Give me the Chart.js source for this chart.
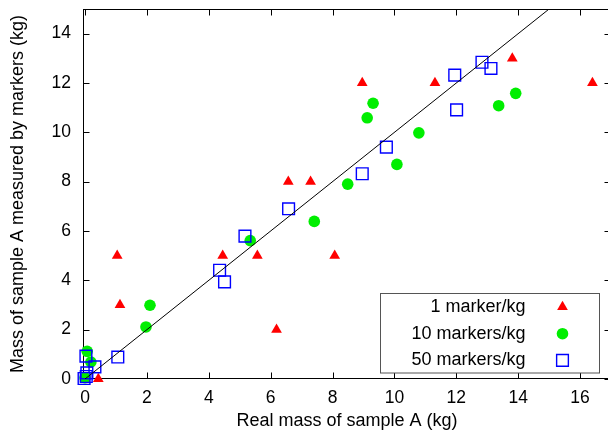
<!DOCTYPE html>
<html lang="en">
<head>
<meta charset="UTF-8">
<title>Mass of sample A</title>
<script src="https://cdn.jsdelivr.net/npm/chart.js"></script>
<style>
  html, body { margin: 0; padding: 0; background: #fff; overflow: hidden; }
  /* plot frame runs a few px past the right edge of the window */
  #wrap { width: 611px; height: 441px; }
</style>
</head>
<body>
<div id="wrap"><canvas id="massChart"></canvas></div>
<script>
// measured mass vs real mass, one series per marker density
const oneX = [0.43, 1.04, 1.13, 4.45, 5.57, 6.19, 6.57, 7.29, 8.07, 8.96, 11.31, 13.81, 16.4, 0.0];
const oneY = [0, 5, 3, 5, 5, 2, 8, 8, 5, 12, 12, 13, 12, 0];

const tenX = [0.0, 0.07, 0.19, 1.97, 2.1, 5.34, 7.41, 8.49, 9.12, 9.31, 10.08, 10.79, 13.37, 13.92];
const tenY = [0.05, 1.12, 0.69, 2.11, 2.99, 5.61, 6.39, 7.9, 10.59, 11.18, 8.7, 9.98, 11.08, 11.58];

const fiftyX = [-0.03, 0.04, 0.06, 0.03, 0.32, 1.06, 4.35, 4.51, 5.17, 6.58, 8.96, 9.74, 11.95, 12.01, 12.83, 13.12];
const fiftyY = [0.02, 0.1, 0.25, 0.93, 0.49, 0.89, 4.41, 3.94, 5.79, 6.9, 8.32, 9.4, 12.32, 10.91, 12.84, 12.59];

// reference line y = x
const refX = [0, 16];
const refY = [0, 16];

const xTicks = [0, 2, 4, 6, 8, 10, 12, 14, 16];
const yTicks = [0, 2, 4, 6, 8, 10, 12, 14];

const FONT = "'Liberation Sans', Arial, Helvetica, sans-serif";

function pts(xs, ys) {
  return xs.map((x, i) => ({x: x, y: ys[i]}));
}

// box, inward ticks on all four sides (gnuplot style)
const frame = {
  id: 'frame',
  beforeDatasetsDraw(chart) {
    const {ctx, chartArea: a, scales: {x, y}} = chart;
    const L = Math.round(a.left) + 0.5, R = Math.round(a.right) - 0.5;
    const T = Math.round(a.top) + 0.5, B = Math.round(a.bottom) - 0.5;
    ctx.save();
    ctx.strokeStyle = '#000';
    ctx.lineWidth = 1;
    ctx.strokeRect(L, T, R - L, B - T);
    ctx.beginPath();
    x.ticks.forEach(t => {
      const px = Math.round(x.getPixelForValue(t.value)) + 0.5;
      ctx.moveTo(px, B); ctx.lineTo(px, B - 6);
      ctx.moveTo(px, T); ctx.lineTo(px, T + 6);
    });
    y.ticks.forEach(t => {
      const py = Math.round(y.getPixelForValue(t.value)) + 0.5;
      ctx.moveTo(L, py); ctx.lineTo(L + 6, py);
      ctx.moveTo(R, py); ctx.lineTo(R - 6, py);
    });
    ctx.stroke();
    ctx.restore();
  }
};

// key box in the lower right: label right-aligned, sample marker after it
const keyBox = {
  id: 'keyBox',
  afterDraw(chart) {
    const {ctx, chartArea: a} = chart;
    const sets = chart.data.datasets.filter(d => d.type !== 'line');
    const left = a.right - 230.5, right = a.right - 11.5;
    const top = a.bottom - 85.5, bottom = a.bottom - 6;
    ctx.save();
    ctx.fillStyle = '#fff';
    ctx.fillRect(left, top, right - left, bottom - top);
    ctx.strokeStyle = '#555';
    ctx.lineWidth = 1;
    ctx.strokeRect(left, top, right - left, bottom - top);
    ctx.font = '18px ' + FONT;
    ctx.textAlign = 'right';
    ctx.textBaseline = 'middle';
    sets.forEach((d, i) => {
      const cy = top + 13.5 + i * 26.7;
      ctx.fillStyle = '#000';
      ctx.fillText(d.label, right - 74, cy);
      ctx.fillStyle = d.backgroundColor;
      ctx.strokeStyle = d.borderColor;
      ctx.lineWidth = d.borderWidth;
      Chart.helpers.drawPoint(ctx, {
        pointStyle: d.pointStyle, radius: d.pointRadius, rotation: 0, borderWidth: d.borderWidth
      }, right - 37, cy);
    });
    ctx.restore();
  }
};

new Chart(document.getElementById('massChart'), {
  type: 'scatter',
  data: {
    datasets: [
      {
        type: 'line', label: 'y = x', data: pts(refX, refY),
        borderColor: '#000', borderWidth: 1, pointRadius: 0, fill: false, order: 1
      },
      {
        label: '1 marker/kg', data: pts(oneX, oneY), order: 4, clip: false,
        pointStyle: 'triangle', pointRadius: 6.2, backgroundColor: '#ff0000',
        borderColor: '#ff0000', borderWidth: 0
      },
      {
        label: '10 markers/kg', data: pts(tenX, tenY), order: 3, clip: false,
        pointStyle: 'circle', pointRadius: 5.8, backgroundColor: '#00ee00',
        borderColor: '#00ee00', borderWidth: 0
      },
      {
        label: '50 markers/kg', data: pts(fiftyX, fiftyY), order: 2, clip: false,
        pointStyle: 'rect', pointRadius: 8.3, backgroundColor: 'rgba(0,0,0,0)',
        borderColor: '#0000ff', borderWidth: 1.4
      }
    ]
  },
  options: {
    responsive: true,
    maintainAspectRatio: false,
    animation: false,
    events: [],
    layout: {autoPadding: false, padding: {left: 0, right: 0, top: 9, bottom: 0}},
    plugins: {legend: {display: false}, tooltip: {enabled: false}},
    scales: {
      x: {
        type: 'linear', min: -0.065, max: 17.0,
        grid: {display: false, drawTicks: false},
        border: {display: false},
        afterBuildTicks: s => { s.ticks = xTicks.map(v => ({value: v})); },
        afterFit: s => { s.height = 62; s.paddingLeft = 0; s.paddingRight = 0; },
        ticks: {color: '#000', padding: 9, font: {family: FONT, size: 17.5}},
        title: {
          display: true, text: 'Real mass of sample A (kg)', color: '#000',
          padding: {top: 0, bottom: 9}, font: {family: FONT, size: 18}
        }
      },
      y: {
        type: 'linear', min: 0, max: 15,
        grid: {display: false, drawTicks: false},
        border: {display: false},
        afterBuildTicks: s => { s.ticks = yTicks.map(v => ({value: v})); },
        afterFit: s => { s.width = 83; s.paddingTop = 0; s.paddingBottom = 0; },
        ticks: {color: '#000', padding: 12, font: {family: FONT, size: 17.5}},
        title: {
          display: true, text: 'Mass of sample A measured by markers (kg)', color: '#000',
          padding: {top: 7, bottom: 0}, font: {family: FONT, size: 18}
        }
      }
    }
  },
  plugins: [frame, keyBox]
});
</script>
</body>
</html>
